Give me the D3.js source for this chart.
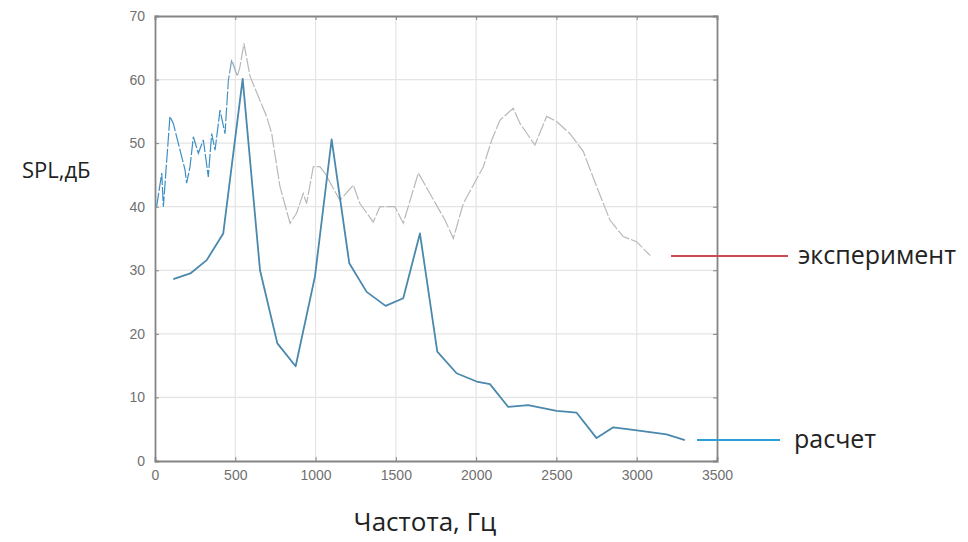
<!DOCTYPE html>
<html>
<head>
<meta charset="utf-8">
<script src="https://cdn.jsdelivr.net/npm/d3@7"></script>
<style>
  body { margin: 0; background: #fff; }
  svg { display: block; font-family: "Open Sans", "DejaVu Sans", sans-serif; }
  .tick text { fill: #707070; font-size: 14px; }
</style>
</head>
<body>
<script>
// experiment (measured SPL), Hz / dB
const expFreq = [10, 42, 52, 93, 114, 187, 197, 218, 239, 270, 301, 332, 353, 374, 405, 436, 457, 478,
  513, 529, 554, 592, 695, 727, 778, 841, 882, 923, 944, 986, 1027, 1058, 1152, 1235, 1276, 1359,
  1401, 1463, 1494, 1546, 1640, 1806, 1858, 1920, 2045, 2097, 2148, 2231, 2273, 2366, 2439, 2501,
  2584, 2667, 2750, 2833, 2916, 2999, 3085];
const expSpl = [40, 45.3, 40, 54.2, 53.1, 45.8, 43.7, 46.3, 51, 48.4, 50.5, 44.7, 51.5, 48.9, 55.2, 51.5, 59.9, 63.1,
  60.5, 62, 65.7, 60.5, 54.2, 51.5, 43.2, 37.4, 39, 42.1, 40.5, 46.3, 46.3, 45.3, 41, 43.4, 40.5, 37.6,
  40, 40, 40, 37.4, 45.3, 37.9, 35, 40.5, 46.3, 50.5, 53.6, 55.5, 53.1, 49.7, 54.2, 53.4,
  51.5, 48.7, 43.2, 37.9, 35.3, 34.5, 32.3];

// calculation
const calcFreq = [114, 220, 322, 425, 546, 654, 762, 876, 996, 1100, 1210, 1318, 1436, 1546, 1650, 1758,
  1878, 2003, 2086, 2200, 2324, 2501, 2626, 2750, 2854, 2978, 3186, 3300];
const calcSpl = [28.6, 29.5, 31.6, 35.8, 60.1, 30, 18.5, 14.9, 29, 50.6, 31.1, 26.6, 24.4, 25.6, 35.8, 17.2,
  13.8, 12.5, 12.1, 8.5, 8.8, 7.9, 7.6, 3.6, 5.3, 4.9, 4.2, 3.3];

const xTicks = [0, 500, 1000, 1500, 2000, 2500, 3000, 3500];
const yTicks = [0, 10, 20, 30, 40, 50, 60, 70];
const legendNames = ["эксперимент", "расчет"];
const legendColors = ["#cc4a4f", "#2a9fd8"];

const width = 968, height = 542;
const svg = d3.select("body").append("svg")
  .attr("width", width)
  .attr("height", height);

const x = d3.scaleLinear().domain([0, 3500]).range([155, 717]);
const y = d3.scaleLinear().domain([0, 70]).range([461, 16]);

// grid
svg.append("g").selectAll("line").data(xTicks.slice(1, -1)).join("line")
  .attr("x1", d => x(d)).attr("x2", d => x(d))
  .attr("y1", y(70)).attr("y2", y(0))
  .attr("stroke", "#e4e4e4").attr("stroke-width", 1.2);
svg.append("g").selectAll("line").data(yTicks.slice(1, -1)).join("line")
  .attr("x1", x(0)).attr("x2", x(3500))
  .attr("y1", d => y(d)).attr("y2", d => y(d))
  .attr("stroke", "#e4e4e4").attr("stroke-width", 1.2);

// axes (matlab-like: ticks inside, box)
svg.append("g").attr("transform", `translate(0,${y(0)})`)
  .call(d3.axisBottom(x).tickValues(xTicks).tickSize(-4).tickPadding(9).tickFormat(d3.format("d")));
svg.append("g").attr("transform", `translate(${x(0)},0)`)
  .call(d3.axisLeft(y).tickValues(yTicks).tickSize(-4).tickPadding(10));
svg.append("g").attr("transform", `translate(0,${y(70)})`)
  .call(d3.axisTop(x).tickValues(xTicks).tickSize(-4).tickFormat(""));
svg.append("g").attr("transform", `translate(${x(3500)},0)`)
  .call(d3.axisRight(y).tickValues(yTicks).tickSize(-4).tickFormat(""));
svg.selectAll(".domain").attr("stroke", "#858585").attr("stroke-width", 1.8);
svg.selectAll(".tick line").attr("stroke", "#858585");

// experiment line: blue at low freq, faint gray afterwards
const grad = svg.append("defs").append("linearGradient")
  .attr("id", "expGrad").attr("gradientUnits", "userSpaceOnUse")
  .attr("x1", x(0)).attr("x2", x(3500)).attr("y1", 0).attr("y2", 0);
grad.append("stop").attr("offset", (x(440) - x(0)) / (x(3500) - x(0))).attr("stop-color", "#3c8fc4");
grad.append("stop").attr("offset", (x(520) - x(0)) / (x(3500) - x(0))).attr("stop-color", "#b8b8b8");

const expData = expFreq.map((f, i) => [f, expSpl[i]]);
const calcData = calcFreq.map((f, i) => [f, calcSpl[i]]);
const line = d3.line().x(d => x(d[0])).y(d => y(d[1]));

svg.append("path").datum(expData)
  .attr("d", line)
  .attr("fill", "none")
  .attr("stroke", "url(#expGrad)")
  .attr("stroke-width", 1.2)
  .attr("stroke-dasharray", "14,2");

svg.append("path").datum(calcData)
  .attr("d", line)
  .attr("fill", "none")
  .attr("stroke", "#4a88ad")
  .attr("stroke-width", 1.8)
  .attr("stroke-linejoin", "round");

// legend (lines drawn over the frame like in the original)
const legend = [
  {name: legendNames[0], color: legendColors[0], x1: 671, x2: 788, y: 256, tx: 798, ty: 264},
  {name: legendNames[1], color: legendColors[1], x1: 697, x2: 780, y: 440, tx: 794, ty: 448}
];
const lg = svg.append("g").selectAll("g").data(legend).join("g");
lg.append("line")
  .attr("x1", d => d.x1).attr("x2", d => d.x2)
  .attr("y1", d => d.y).attr("y2", d => d.y)
  .attr("stroke", d => d.color).attr("stroke-width", 2);
lg.append("text")
  .attr("x", d => d.tx).attr("y", d => d.ty)
  .attr("font-size", 25).attr("fill", "#222")
  .text(d => d.name);

// axis titles
svg.append("text")
  .attr("x", 22).attr("y", 178)
  .attr("font-size", 22).attr("fill", "#222")
  .text("SPL,дБ");
svg.append("text")
  .attr("x", 425).attr("y", 531)
  .attr("text-anchor", "middle")
  .attr("font-size", 26).attr("fill", "#222")
  .text("Частота, Гц");
</script>
</body>
</html>
